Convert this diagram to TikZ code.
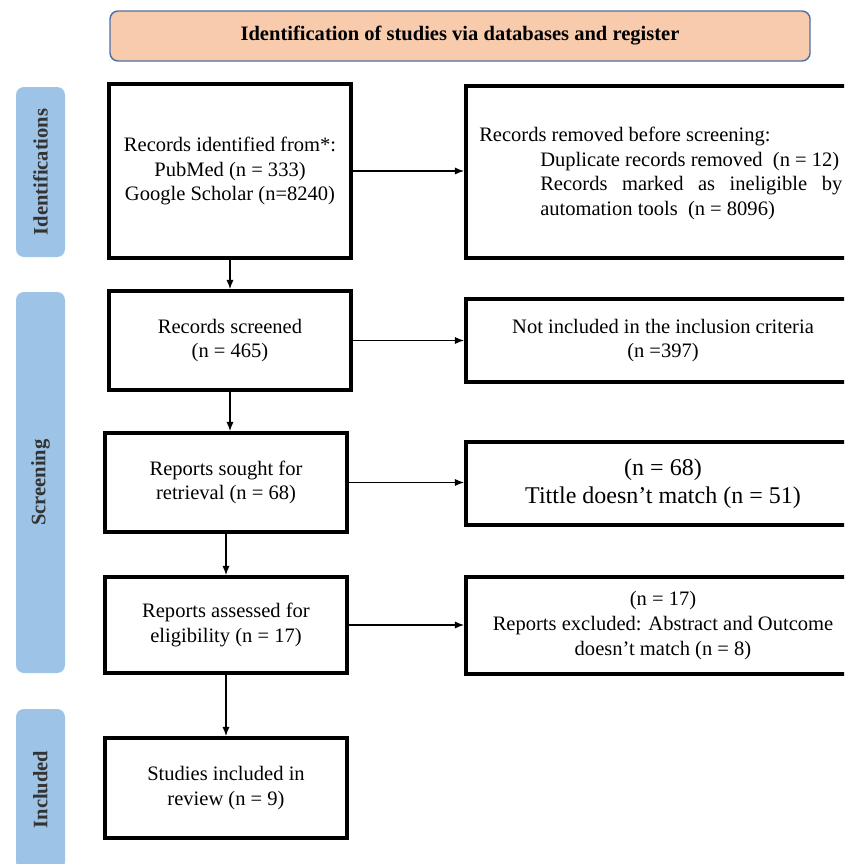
\documentclass[tikz,border=0pt]{standalone}
\usepackage{fontspec}
\setmainfont{Liberation Serif}
\usetikzlibrary{arrows.meta}
\definecolor{peach}{HTML}{F8CBAD}
\definecolor{hdrline}{HTML}{4F71A8}
\definecolor{sidebar}{HTML}{9DC3E6}
\definecolor{sidetext}{HTML}{333333}
\tikzset{
  box/.style={draw=black, line width=2.6pt, fill=white, inner sep=2pt, align=center,
    font=\fontsize{15.4}{18.5}\selectfont},
  side/.style={fill=sidebar, rounded corners=6pt, inner sep=0pt},
  sidelabel/.style={rotate=90, font=\fontsize{15.4}{18}\selectfont\bfseries, text=sidetext},
  arr/.style={line width=1.1pt, -{Latex[length=7pt,width=5.4pt]}},
}
\begin{document}
\begin{tikzpicture}[x=0.75pt, y=-0.75pt]
\useasboundingbox (0,0) rectangle (844,864);
\clip (0,0) rectangle (844,864);
% header
\node[draw=hdrline, line width=1.1pt, fill=peach, rounded corners=6pt,
  minimum width={700*0.75pt}, minimum height={50*0.75pt},
  font=\fontsize{15.4}{18}\selectfont\bfseries] (hdr) at (460,36)
  {Identification of studies via databases and register};
% side bars
\node[side, minimum width={49*0.75pt}, minimum height={170*0.75pt}] (sb1) at (40.5,172) {};
\node[side, minimum width={49*0.75pt}, minimum height={381*0.75pt}] (sb2) at (40.5,482.5) {};
\node[side, minimum width={49*0.75pt}, minimum height={161*0.75pt}] (sb3) at (40.5,789.5) {};
\node[sidelabel] (sl1) at (sb1.center) {Identifications};
\node[sidelabel] (sl2) at (sb2.center) {Screening};
\node[sidelabel] (sl3) at (sb3.center) {Included};
% left boxes
\node[box, minimum width={242*0.75pt}, minimum height={174*0.75pt}] (l1) at (230,171)
  {Records identified from*:\\PubMed (n = 333)\\Google Scholar (n=8240)};
\node[box, minimum width={242*0.75pt}, minimum height={99*0.75pt}] (l2) at (230,340.5)
  {Records screened\\(n = 465)};
\node[box, minimum width={242*0.75pt}, minimum height={99*0.75pt}] (l3) at (226,482.5)
  {Reports sought for\\retrieval (n = 68)};
\node[box, minimum width={242*0.75pt}, minimum height={96*0.75pt}] (l4) at (226,625)
  {Reports assessed for\\eligibility (n = 17)};
\node[box, minimum width={242*0.75pt}, minimum height={100*0.75pt}] (l5) at (226,788)
  {Studies included in\\review (n = 9)};
% right boxes
\node[box, minimum width={394*0.75pt}, minimum height={172*0.75pt}] (r1) at (663,172) {};
\node[anchor=west, inner sep=0pt, align=left, font=\fontsize{15.4}{18.3}\selectfont] (r1t) at (479,173.5)
  {Records removed before screening:\\
   \hspace*{45.75pt}Duplicate records removed\ \ (n = 12)\\
   \hspace*{45.75pt}\makebox[226.5pt][s]{Records marked as ineligible by}\\
   \hspace*{45.75pt}automation tools\ \ (n = 8096)};
\node[box, minimum width={394*0.75pt}, minimum height={83*0.75pt}] (r2) at (663,340.5)
  {Not included in the inclusion criteria\\(n =397)};
\node[box, minimum width={394*0.75pt}, minimum height={83*0.75pt},
  font=\fontsize{18}{21}\selectfont] (r3) at (663,483.5)
  {(n = 68)\\Tittle doesn’t match (n = 51)};
\node[box, minimum width={394*0.75pt}, minimum height={97*0.75pt}] (r4) at (663,625.5)
  {(n = 17)\\Reports excluded: Abstract and Outcome\\doesn’t match (n = 8)};
% arrows
\draw[arr] (l1.east) -- (l1.east -| r1.west);
\draw[arr] (l2.east) -- (l2.east -| r2.west);
\draw[arr] (l3.east) -- (l3.east -| r3.west);
\draw[arr] (l4.east) -- (l4.east -| r4.west);
\draw[arr] (l1.south) -- (l2.north);
\draw[arr] (l2.south) -- (l2.south |- l3.north);
\draw[arr] (l3.south) -- (l4.north);
\draw[arr] (l4.south) -- (l5.north);
\end{tikzpicture}
\end{document}
